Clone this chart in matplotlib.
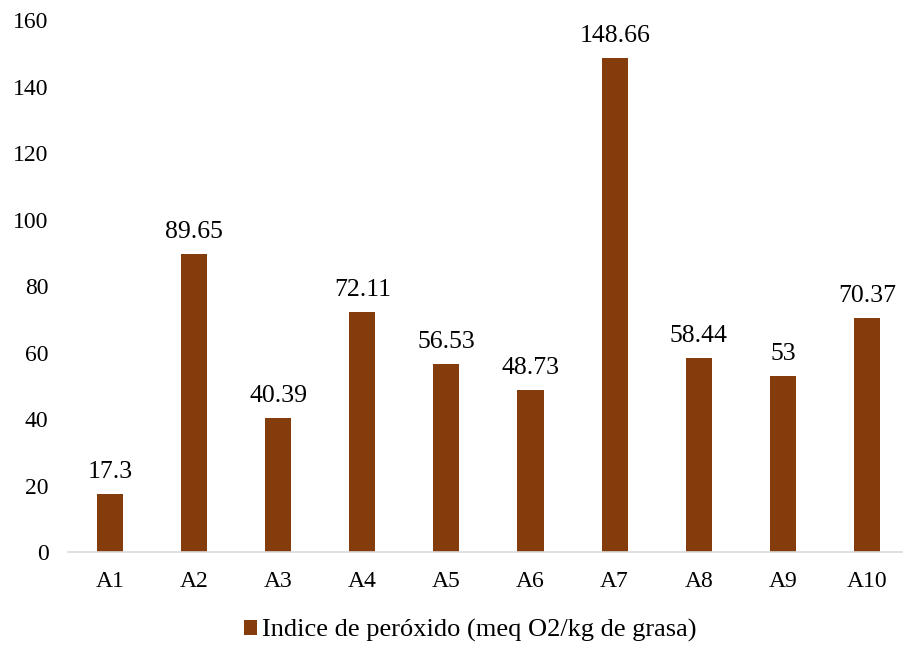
import matplotlib.pyplot as plt
from matplotlib.patches import Patch

plt.rcParams['font.family'] = ['Liberation Serif', 'DejaVu Serif']

muestras = ['A1', 'A2', 'A3', 'A4', 'A5', 'A6', 'A7', 'A8', 'A9', 'A10']
peroxido = [17.3, 89.65, 40.39, 72.11, 56.53, 48.73, 148.66, 58.44, 53, 70.37]
etiquetas = ['17.3', '89.65', '40.39', '72.11', '56.53', '48.73', '148.66', '58.44', '53', '70.37']

color_barra = '#843C0C'

fig = plt.figure(figsize=(9.04, 6.46), dpi=100)
# el eje llega hasta el borde derecho de la figura
ax = fig.add_axes([0.0752, 0.1455, 0.9303, 0.8235])

x = range(len(muestras))
barras = ax.bar(x, peroxido, width=0.31, color=color_barra)

for b, txt in zip(barras, etiquetas):
    ax.annotate(txt, (b.get_x() + b.get_width() / 2, b.get_height()),
                xytext=(0, 8), textcoords='offset points',
                ha='center', va='bottom', fontsize=18.5)

ax.set_xlim(-0.5, len(muestras) - 0.5)
ax.set_ylim(0, 160)
ax.set_yticks(range(0, 161, 20))
ax.set_xticks(list(x))
ax.set_xticklabels(muestras)
ax.tick_params(axis='both', length=0, labelsize=17)
ax.tick_params(axis='x', pad=14)
ax.tick_params(axis='y', pad=14)

for s in ['top', 'right', 'left']:
    ax.spines[s].set_visible(False)
ax.spines['bottom'].set_color('#D9D9D9')
ax.spines['bottom'].set_linewidth(1.2)

leyenda = [Patch(facecolor=color_barra, label='Indice de peróxido (meq O2/kg de grasa)')]
fig.legend(handles=leyenda, loc='center', bbox_to_anchor=(0.52, 0.024),
           frameon=False, fontsize=19, handlelength=0.5, handleheight=0.5,
           handletextpad=0.2)

fig.savefig('out.png', dpi=100)
